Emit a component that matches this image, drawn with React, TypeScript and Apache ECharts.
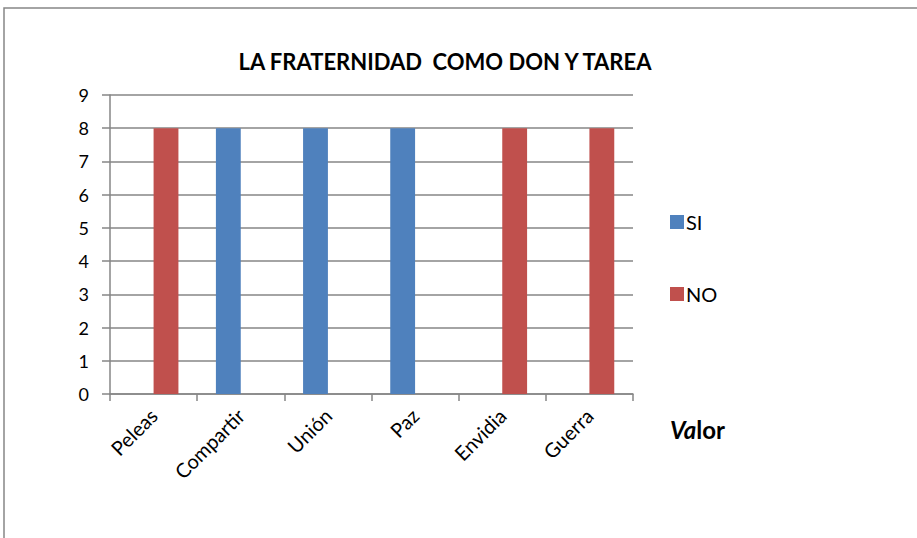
import React, { useEffect, useRef } from "react";
import * as echarts from "echarts";

const categories = ["Peleas", "Compartir", "Unión", "Paz", "Envidia", "Guerra"];
const siValues: (number | null)[] = [null, 8, 8, 8, null, null];
const noValues: (number | null)[] = [8, null, null, null, 8, 8];
const seriesNames = ["SI", "NO"];
const titleText = "LA FRATERNIDAD  COMO DON Y TAREA";

const FONT = "Lato, 'Open Sans', sans-serif";

export default function App() {
  const ref = useRef<HTMLDivElement>(null);
  useEffect(() => {
    if (!ref.current) return;
    const chart = echarts.init(ref.current, null, { renderer: "svg" });
    chart.setOption({
      animation: false,
      backgroundColor: "#ffffff",
      textStyle: { fontFamily: FONT },
      grid: { left: 110, right: 284, top: 95, bottom: 144, containLabel: false },
      graphic: [
        {
          type: "rect",
          shape: { x: 4, y: 8, width: 1000, height: 1000 },
          style: { fill: "none", stroke: "#868686", lineWidth: 1.5 },
          silent: true,
        },
        {
          type: "text",
          x: 445,
          y: 61,
          style: {
            text: titleText,
            fontFamily: FONT,
            fontSize: 22,
            fontWeight: "bold",
            fill: "#000",
            align: "center",
            verticalAlign: "middle",
          },
        },
        {
          type: "text",
          x: 670,
          y: 429,
          style: {
            text: "{a|Va}{b|lor}",
            fontFamily: FONT,
            verticalAlign: "middle",
            rich: {
              a: { fontStyle: "italic", fontWeight: "bold", fontSize: 24, fill: "#000", fontFamily: FONT },
              b: { fontWeight: "bold", fontSize: 24, fill: "#000", fontFamily: FONT },
            },
          },
        },
      ],
      legend: {
        orient: "vertical",
        left: 665,
        top: 207,
        itemWidth: 14,
        itemHeight: 14,
        itemGap: 52,
        icon: "rect",
        data: seriesNames,
        textStyle: { fontSize: 20, color: "#000", fontFamily: FONT, padding: [0, 0, 0, -3] },
      },
      xAxis: {
        type: "category",
        data: categories,
        axisLine: { lineStyle: { color: "#868686", width: 1.5 } },
        axisTick: { show: true, length: 7, lineStyle: { color: "#868686", width: 1.5 } },
        axisLabel: { rotate: 45, fontSize: 20, color: "#000", margin: 18, fontFamily: FONT },
      },
      yAxis: {
        type: "value",
        min: 0,
        max: 9,
        interval: 1,
        axisLine: { show: true, lineStyle: { color: "#868686", width: 1.5 } },
        axisTick: { show: true, length: 8, lineStyle: { color: "#868686", width: 1.5 } },
        splitLine: { lineStyle: { color: "#868686", width: 1.5 } },
        axisLabel: { fontSize: 18, color: "#000", margin: 21, fontFamily: FONT },
      },
      series: [
        {
          name: seriesNames[0],
          type: "bar",
          data: siValues,
          itemStyle: { color: "#4F81BD" },
          barGap: "0%",
          barCategoryGap: "43%",
        },
        {
          name: seriesNames[1],
          type: "bar",
          data: noValues,
          itemStyle: { color: "#C0504D" },
          barGap: "0%",
          barCategoryGap: "43%",
        },
      ],
    });
    return () => chart.dispose();
  }, []);
  return (
    <div
      ref={ref}
      style={{ position: "fixed", left: 0, top: 0, width: 917, height: 538 }}
    />
  );
}
